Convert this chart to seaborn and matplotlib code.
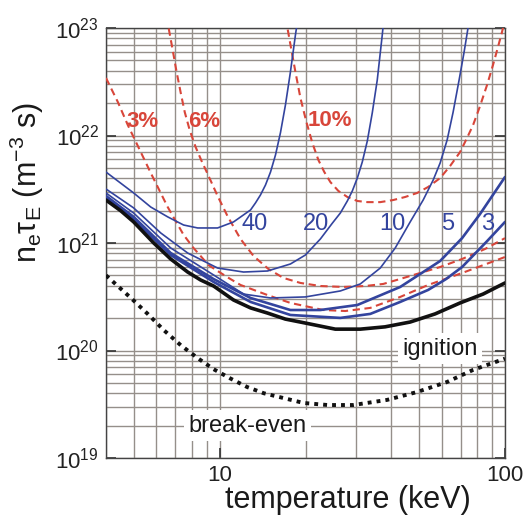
import matplotlib
matplotlib.use("Agg")
import matplotlib.pyplot as plt
import seaborn as sns
from matplotlib.ticker import LogLocator, NullFormatter

# ---- curves: temperature T (keV) and n_e*tau_E (m^-3 s) ----
ign_T = [4.0, 4.51, 5.00, 5.88, 6.74, 7.73, 8.58, 9.53, 11.19, 12.84, 14.72, 17.0, 19.98, 25.44, 31.12,
         38.0, 46.53, 56.9, 69.61, 83.8, 100]
ign_n = [2.51e21, 1.99e21, 1.57e21, 1.0e21, 7.10e20, 5.37e20, 4.53e20, 3.98e20, 2.95e20, 2.49e20,
         2.23e20, 1.96e20, 1.80e20, 1.58e20, 1.58e20, 1.66e20, 1.84e20, 2.19e20, 2.77e20, 3.35e20, 4.25e20]

be_T = [4.0, 4.89, 5.6, 6.37, 7.31, 8.38, 9.53, 10.9, 12.5, 14.3, 19.7, 23.9, 29.4, 38.6, 49.2, 62.7, 77.3, 100]
be_n = [5.0e20, 3.08e20, 2.19e20, 1.55e20, 1.12e20, 8.5e19, 6.7e19, 5.5e19, 4.57e19, 4.0e19, 3.25e19,
        3.11e19, 3.11e19, 3.47e19, 4.11e19, 5.1e19, 6.6e19, 8.4e19]

r3_T = [4.0, 5.0, 6.74, 9.53, 12.84, 17.71, 26.49, 33.73, 42.94, 53.80, 62.0, 70.74, 86.52, 100]
r3_n = [2.62e21, 1.67e21, 7.73e20, 4.34e20, 2.83e20, 2.14e20, 2.01e20, 2.19e20, 2.83e20, 3.66e20,
        4.60e20, 5.98e20, 1.04e21, 1.57e21]

r5_T = [4.0, 5.0, 6.74, 9.53, 12.84, 17.71, 22.55, 30.38, 42.94, 59.26, 70.74, 81.76, 100]
r5_n = [2.74e21, 1.75e21, 8.07e20, 4.62e20, 3.08e20, 2.38e20, 2.38e20, 2.65e20, 3.90e20, 6.80e20,
        1.11e21, 1.86e21, 4.11e21]

r10_T = [4.0, 5.0, 6.74, 9.53, 12.13, 15.08, 19.98, 26.49, 31.12, 36.56, 41.25, 46.53, 51.67, 56.02,
         59.26, 62.7, 65.8, 69.05, 71.9, 74.8]
r10_n = [2.92e21, 1.90e21, 8.99e20, 5.04e20, 3.35e20, 3.08e20, 3.15e20, 3.58e20, 4.16e20, 5.85e20,
         8.99e20, 1.57e21, 2.51e21, 3.85e21, 5.55e21, 9.08e21, 1.65e22, 3.28e22, 5.98e22, 1.14e23]

r20_T = [4.0, 5.0, 6.22, 7.73, 9.84, 12.13, 14.72, 17.71, 19.98, 22.55, 24.84, 26.49, 28.03, 29.18,
         30.38, 31.62, 32.93, 34.27, 35.68, 37.15, 37.76]
r20_n = [3.18e21, 2.12e21, 1.24e21, 8.07e20, 5.85e20, 5.37e20, 5.49e20, 6.38e20, 7.73e20, 1.09e21,
         1.53e21, 1.90e21, 2.46e21, 3.05e21, 4.02e21, 5.67e21, 8.89e21, 1.62e22, 3.28e22, 8.61e22, 1.32e23]

r40_T = [4.0, 5.0, 5.74, 6.58, 7.48, 8.38, 9.84, 11.19, 12.84, 13.36, 13.91, 14.48, 15.08, 15.70,
         16.34, 17.01, 17.71, 18.44, 18.89]
r40_n = [4.57e21, 2.92e21, 2.16e21, 1.75e21, 1.47e21, 1.38e21, 1.38e21, 1.57e21, 2.03e21, 2.36e21,
         2.80e21, 3.46e21, 4.57e21, 6.59e21, 1.06e22, 1.92e22, 3.90e22, 8.61e22, 1.32e23]

imp3_T = [4.0, 4.40, 4.77, 5.74, 6.58, 7.48, 8.10, 8.58, 9.14, 9.84, 10.8, 11.84, 14.72, 17.71, 23.10,
          27.57, 33.73, 42.94, 53.80, 70.74, 100]
imp3_n = [3.43e22, 2.05e22, 1.25e22, 4.48e21, 2.16e21, 1.19e21, 9.0e20, 7.57e20, 6.24e20, 5.49e20,
          4.70e20, 4.07e20, 3.28e20, 2.77e20, 2.38e20, 2.33e20, 2.49e20, 3.15e20, 4.07e20, 5.26e20, 7.41e20]

imp6_T = [6.53, 6.63, 6.85, 7.07, 7.31, 7.55, 7.86, 8.24, 8.65, 9.08, 9.84, 10.66, 11.84, 13.15, 14.83,
          16.74, 19.20, 22.55, 27.14, 32.39, 37.45, 42.94, 50.43, 59.26, 70.74, 85.1, 100]
imp6_n = [1.27e23, 1.0e23, 6.24e22, 3.90e22, 2.49e22, 1.65e22, 1.12e22, 7.82e21, 5.79e21, 4.39e21,
          2.74e21, 1.78e21, 1.09e21, 7.57e20, 5.73e20, 4.73e20, 4.25e20, 3.98e20, 3.90e20, 3.98e20,
          4.16e20, 4.63e20, 5.26e20, 5.98e20, 7.10e20, 8.79e20, 1.11e21]

imp10_T = [17.0, 17.29, 17.85, 18.44, 19.20, 20.14, 21.14, 22.19, 23.28, 24.44, 26.07, 28.03, 30.38,
           32.93, 36.56, 40.59, 44.7, 49.23, 53.80, 59.26, 64.2, 69.61, 73.6, 77.29, 81.76, 86.52,
           90.78, 94.5, 97.61, 100]
imp10_n = [1.24e23, 1.0e23, 6.24e22, 3.90e22, 2.23e22, 1.34e22, 8.51e21, 5.92e21, 4.57e21, 3.69e21,
           3.05e21, 2.68e21, 2.46e21, 2.40e21, 2.40e21, 2.51e21, 2.68e21, 2.92e21, 3.32e21, 4.02e21,
           5.20e21, 7.02e21, 9.48e21, 1.25e22, 1.88e22, 2.95e22, 4.53e22, 6.66e22, 9.18e22, 1.19e23]

# ---- labels ----
ratio_labels = ["40", "20", "10", "5", "3"]
ratio_label_T = [13.3, 21.7, 40.3, 63.1, 87.0]
ratio_label_n = 1.5e21
imp_labels = ["3%", "6%", "10%"]
imp_label_T = [5.38, 8.8, 24.4]
imp_label_n = [1.36e22, 1.36e22, 1.38e22]
ign_label = ("ignition", 59.3, 1.04e20)
be_label = ("break-even", 12.5, 2.0e19)

x_tick_values = [10, 100]
x_tick_labels = ["10", "100"]

BLUE = "#33449e"
RED = "#d8463a"

sns.set_theme(style="white")
plt.rcParams["font.family"] = ["Liberation Sans", "DejaVu Sans"]
plt.rcParams["mathtext.fontset"] = "custom"
plt.rcParams["mathtext.rm"] = "Liberation Sans"
plt.rcParams["mathtext.it"] = "Liberation Sans:italic"
plt.rcParams["mathtext.default"] = "regular"

fig = plt.figure(figsize=(5.27, 5.17), dpi=100)
ax = fig.add_axes([106 / 527, 1 - 458 / 517, 399 / 527, 430 / 517])

ax.set_xscale("log")
ax.set_yscale("log")

def draw(T, n, **kw):
    sns.lineplot(x=T, y=n, ax=ax, sort=False, estimator=None, **kw)

# impurity-fraction curves (dashed)
for T, n in [(imp3_T, imp3_n), (imp6_T, imp6_n), (imp10_T, imp10_n)]:
    draw(T, n, color=RED, lw=1.5, linestyle=(0, (3.5, 2.2)), zorder=3)

# helium confinement ratio curves
for T, n, w in [(r40_T, r40_n, 1.2), (r20_T, r20_n, 1.2), (r10_T, r10_n, 1.2),
                (r5_T, r5_n, 1.9), (r3_T, r3_n, 1.9)]:
    draw(T, n, color=BLUE, lw=w, zorder=4)

# ignition and break-even
draw(ign_T, ign_n, color="#111111", lw=2.6, zorder=5)
draw(be_T, be_n, color="#111111", lw=2.8, linestyle=(0, (1.0, 1.3)), zorder=5)

ax.set_xlim(4, 100)
ax.set_ylim(1e19, 1e23)

ax.set_xticks(x_tick_values)
ax.set_xticklabels(x_tick_labels)
ax.xaxis.set_minor_locator(LogLocator(base=10, subs=range(2, 10)))
ax.xaxis.set_minor_formatter(NullFormatter())
ax.yaxis.set_major_locator(LogLocator(base=10, numticks=10))
ax.yaxis.set_minor_locator(LogLocator(base=10, subs=range(2, 10), numticks=20))
ax.yaxis.set_minor_formatter(NullFormatter())

ax.set_axisbelow(True)
ax.grid(True, which="both", color="#958f8a", lw=1.0)

for s in ax.spines.values():
    s.set_color("#444444")
    s.set_linewidth(1.0)

ax.tick_params(which="major", direction="in", length=7, width=1.2, colors="#333333",
               labelsize=16, labelcolor="#222222", left=True, right=True, bottom=True, top=False, pad=5)
ax.tick_params(which="minor", direction="in", length=0)

ax.set_xlabel("temperature (keV)", fontsize=22, color="#1a1a1a")
ax.xaxis.set_label_coords(0.605, -0.062)
ax.set_ylabel("n$_e$τ$_E$ (m$^{-3}$ s)", fontsize=22, color="#1a1a1a")
ax.yaxis.set_label_coords(-0.15, 0.64)

for lab, T in zip(ratio_labels, ratio_label_T):
    ax.text(T, ratio_label_n, lab, color=BLUE, fontsize=17, ha="center", va="center", zorder=6)
for lab, T, n in zip(imp_labels, imp_label_T, imp_label_n):
    ax.text(T, n, lab, color=RED, fontsize=16, fontweight="bold", ha="center", va="center", zorder=6)

box = dict(facecolor="white", edgecolor="none", pad=3)
ax.text(ign_label[1], ign_label[2], ign_label[0], fontsize=17, ha="center", va="center",
        color="#1a1a1a", bbox=box, zorder=7)
ax.text(be_label[1], be_label[2], be_label[0], fontsize=17, ha="center", va="center",
        color="#1a1a1a", bbox=box, zorder=7)

fig.savefig("out.png", dpi=100, facecolor="white")
